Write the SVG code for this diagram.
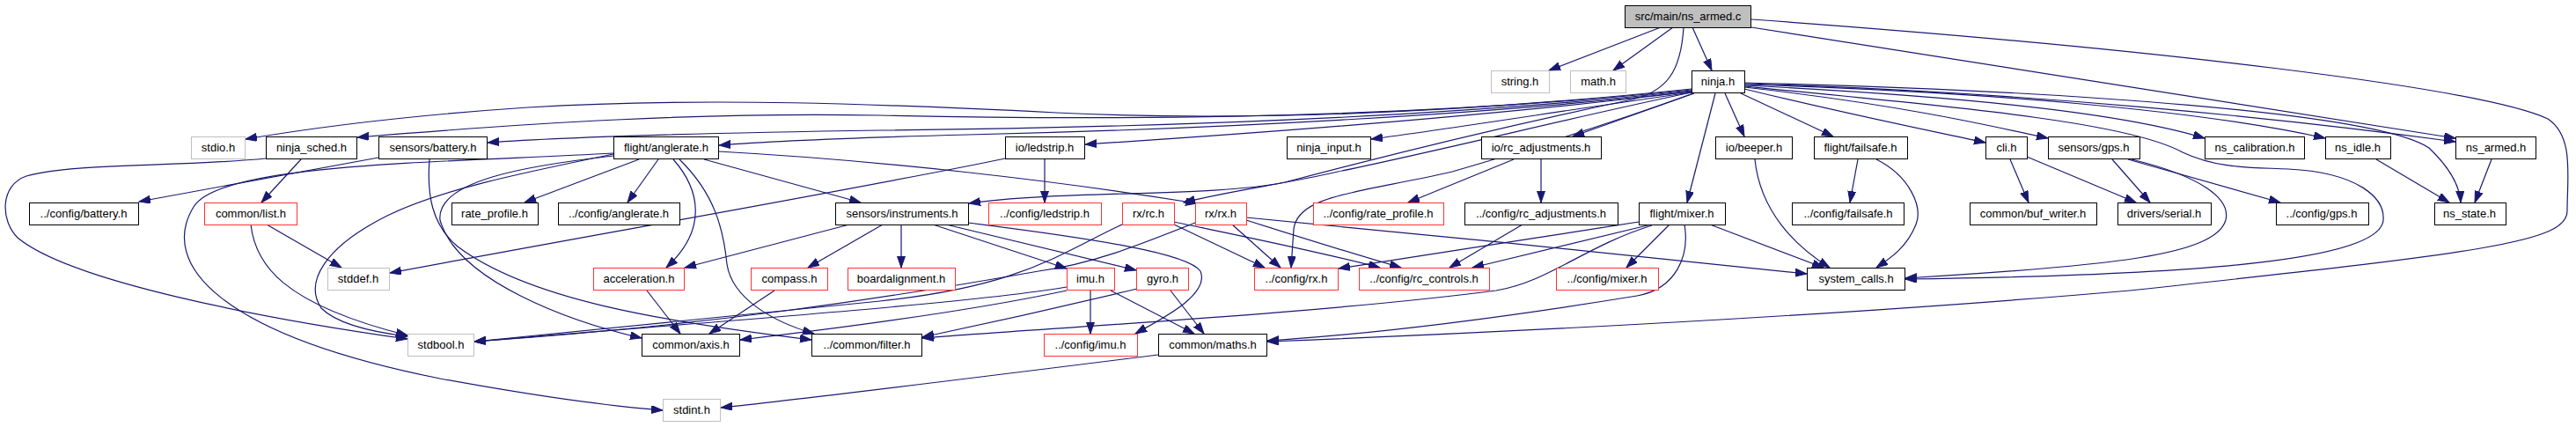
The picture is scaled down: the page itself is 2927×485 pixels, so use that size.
<svg xmlns="http://www.w3.org/2000/svg" width="2927" height="485" viewBox="0 0 2927 485">
<style>
rect{fill:#fff;stroke:#000;stroke-width:1}
.r rect{stroke:#f33}
.g rect{stroke:#bfbfbf}
.root rect{fill:#bfbfbf;stroke:#000}
text{font-family:"Liberation Sans",Arial,sans-serif;font-size:13px;text-anchor:middle;fill:#000}
#edges path{fill:none;stroke:#191970;stroke-width:1.2;marker-end:url(#a)}
</style>
<defs>
<marker id="a" markerUnits="userSpaceOnUse" markerWidth="14" markerHeight="10" refX="13" refY="4.5" orient="auto">
<path d="M0,0 L13,4.5 L0,9 z" fill="#191970" stroke="#191970" stroke-width="1"/>
</marker>
</defs>
<rect x="0" y="0" width="2927" height="485" style="fill:#fff;stroke:none"/>
<g id="edges">
<path d="M1887,31 L1760,80"/>
<path d="M1901,31 L1833,80"/>
<path d="M1923,31 L1945,80"/>
<path d="M1990,31 L2790,157"/>
<path d="M1990,22 C2450,55 2820,100 2895,135 C2925,155 2917,200 2917,240 C2917,275 2820,287 2420,330 C2100,358 1700,378 1440,388"/>
<path d="M1913,31 C1910,80 1895,105 1850,114 C1750,135 1600,170 1460,207 C1380,224 1200,216 1101,231"/>
<path d="M1922,101 C1700,124 1450,140 1200,128 C1000,118 800,110 600,122 C450,132 350,146 279,158"/>
<path d="M1922,102 C1700,125 1400,140 1000,131 C800,127 600,140 406,156"/>
<path d="M1922,103 C1700,127 1400,144 1000,148 C800,151 650,155 554,162"/>
<path d="M1922,104 C1700,129 1400,146 1100,153 C950,157 880,160 817,165"/>
<path d="M1922,104 C1700,131 1450,150 1233,164"/>
<path d="M1922,105 C1800,122 1650,146 1558,158"/>
<path d="M1925,106 L1787,155"/>
<path d="M1922,105 C1800,130 1650,168 1520,195 C1460,209 1400,216 1345,230"/>
<path d="M1924,106 C1830,140 1720,175 1650,195 C1540,220 1475,222 1470,260 L1467,304"/>
<path d="M1949,106 L1917,230"/>
<path d="M1960,106 L1982,155"/>
<path d="M1978,106 L2083,155"/>
<path d="M1982,101 C2100,130 2200,150 2256,162"/>
<path d="M1982,99 C2150,118 2250,140 2327,157"/>
<path d="M1982,97 C2200,108 2400,125 2505,157"/>
<path d="M1982,96 C2250,104 2500,125 2642,157"/>
<path d="M1982,95 C2300,104 2600,135 2790,161"/>
<path d="M1982,94 C2350,103 2700,128 2760,168 C2785,192 2795,212 2796,230"/>
<path d="M1982,98 C2250,124 2420,140 2480,173 C2520,192 2560,190 2600,192 C2680,196 2710,225 2708,250 C2705,290 2550,312 2165,317"/>
<path d="M430,179 L158,229"/>
<path d="M488,181 C485,220 490,255 520,280 C600,340 750,365 922,386"/>
<path d="M726,181 L596,230"/>
<path d="M748,181 L713,230"/>
<path d="M800,181 L978,230"/>
<path d="M816,172 C1000,182 1200,205 1360,231"/>
<path d="M765,181 C795,215 805,260 757,304"/>
<path d="M772,181 C812,220 822,260 826,300 C832,340 880,366 925,379"/>
<path d="M697,177 C600,188 495,205 500,250 C520,320 650,366 729,384"/>
<path d="M697,175 C600,195 500,215 440,245 C370,280 345,320 365,350 C385,370 430,378 463,382"/>
<path d="M697,174 C500,185 250,185 220,235 C180,300 250,380 500,430 C620,452 700,462 753,466"/>
<path d="M342,181 L297,230"/>
<path d="M302,180 C200,190 80,185 30,200 C0,210 0,250 20,270 C80,320 300,362 463,385"/>
<path d="M303,255 L388,304"/>
<path d="M285,255 C290,300 320,345 463,381"/>
<path d="M1187,181 L1187,230"/>
<path d="M1142,180 C1000,210 700,262 443,310"/>
<path d="M965,255 L778,304"/>
<path d="M1003,255 L918,304"/>
<path d="M1024,255 L1024,304"/>
<path d="M1060,255 L1212,305"/>
<path d="M1075,255 L1291,307"/>
<path d="M1100,253 C1250,272 1350,288 1364,308 C1375,335 1320,362 1290,379"/>
<path d="M735,330 L773,379"/>
<path d="M880,330 L806,379"/>
<path d="M1239,330 L1239,379"/>
<path d="M1262,330 L1357,379"/>
<path d="M1212,326 C1100,345 800,366 539,388"/>
<path d="M1212,330 C1100,354 960,372 841,386"/>
<path d="M1330,330 L1368,379"/>
<path d="M1292,328 C1200,350 1100,372 1048,383"/>
<path d="M1275,255 C1200,290 1160,325 1000,342 C800,362 650,377 539,388"/>
<path d="M1334,255 L1437,304"/>
<path d="M1334,252 C1400,266 1500,286 1568,304"/>
<path d="M1358,253 C1290,280 1240,300 1180,308 C1000,340 800,370 539,388"/>
<path d="M1400,255 L1455,304"/>
<path d="M1416,250 C1460,264 1530,286 1592,304"/>
<path d="M1416,247 C1600,264 1900,295 2053,311"/>
<path d="M1862,252 C1750,270 1600,292 1521,305"/>
<path d="M1876,255 L1673,304"/>
<path d="M1897,255 L1848,304"/>
<path d="M1943,255 L2072,304"/>
<path d="M1877,256 C1800,280 1760,320 1700,330 C1500,356 1200,372 1048,384"/>
<path d="M1914,255 C1920,290 1905,328 1860,336 C1700,362 1550,380 1440,387"/>
<path d="M1730,255 L1647,304"/>
<path d="M1720,181 L1600,230"/>
<path d="M1751,181 L1751,230"/>
<path d="M1994,181 C2000,240 2040,280 2079,304"/>
<path d="M2111,181 L2102,230"/>
<path d="M2132,181 C2170,200 2185,235 2177,255 C2167,280 2150,292 2132,304"/>
<path d="M2284,181 L2305,230"/>
<path d="M2303,178 L2427,230"/>
<path d="M2400,181 L2443,230"/>
<path d="M2418,181 L2591,230"/>
<path d="M2422,181 C2500,200 2535,225 2529,250 C2517,290 2400,302 2165,316"/>
<path d="M2700,181 L2783,230"/>
<path d="M2831,181 L2812,230"/>
<path d="M1316,403 C1100,430 900,455 819,463"/>
</g>
<g id="n_root" class="root"><rect x="1846.5" y="6.5" width="143" height="25"/><text x="1918" y="23">src/main/ns_armed.c</text></g>
<g id="n_string" class="g"><rect x="1694.5" y="80.5" width="66" height="25"/><text x="1727" y="97">string.h</text></g>
<g id="n_math" class="g"><rect x="1784.5" y="80.5" width="63" height="25"/><text x="1816" y="97">math.h</text></g>
<g id="n_ninja"><rect x="1922.5" y="80.5" width="60" height="25"/><text x="1952" y="97">ninja.h</text></g>
<g id="n_stdio" class="g"><rect x="217.5" y="155.5" width="61" height="25"/><text x="248" y="172">stdio.h</text></g>
<g id="n_ninja_sched"><rect x="302.5" y="155.5" width="103" height="25"/><text x="354" y="172">ninja_sched.h</text></g>
<g id="n_sensors_battery"><rect x="430.5" y="155.5" width="123" height="25"/><text x="492" y="172">sensors/battery.h</text></g>
<g id="n_flight_anglerate"><rect x="697.5" y="155.5" width="119" height="25"/><text x="757" y="172">flight/anglerate.h</text></g>
<g id="n_io_ledstrip"><rect x="1142.5" y="155.5" width="90" height="25"/><text x="1187" y="172">io/ledstrip.h</text></g>
<g id="n_ninja_input"><rect x="1462.5" y="155.5" width="95" height="25"/><text x="1510" y="172">ninja_input.h</text></g>
<g id="n_io_rc_adjustments"><rect x="1683.5" y="155.5" width="136" height="25"/><text x="1751" y="172">io/rc_adjustments.h</text></g>
<g id="n_io_beeper"><rect x="1949.5" y="155.5" width="87" height="25"/><text x="1993" y="172">io/beeper.h</text></g>
<g id="n_flight_failsafe"><rect x="2061.5" y="155.5" width="106" height="25"/><text x="2114" y="172">flight/failsafe.h</text></g>
<g id="n_cli"><rect x="2256.5" y="155.5" width="47" height="25"/><text x="2280" y="172">cli.h</text></g>
<g id="n_sensors_gps"><rect x="2327.5" y="155.5" width="104" height="25"/><text x="2379" y="172">sensors/gps.h</text></g>
<g id="n_ns_calibration"><rect x="2505.5" y="155.5" width="113" height="25"/><text x="2562" y="172">ns_calibration.h</text></g>
<g id="n_ns_idle"><rect x="2642.5" y="155.5" width="74" height="25"/><text x="2679" y="172">ns_idle.h</text></g>
<g id="n_ns_armed_h"><rect x="2790.5" y="155.5" width="91" height="25"/><text x="2836" y="172">ns_armed.h</text></g>
<g id="n_cfg_battery"><rect x="33.5" y="230.5" width="124" height="25"/><text x="95" y="247">../config/battery.h</text></g>
<g id="n_common_list" class="r"><rect x="232.5" y="230.5" width="105" height="25"/><text x="285" y="247">common/list.h</text></g>
<g id="n_rate_profile"><rect x="513.5" y="230.5" width="98" height="25"/><text x="562" y="247">rate_profile.h</text></g>
<g id="n_cfg_anglerate"><rect x="634.5" y="230.5" width="138" height="25"/><text x="703" y="247">../config/anglerate.h</text></g>
<g id="n_sensors_instruments"><rect x="949.5" y="230.5" width="151" height="25"/><text x="1025" y="247">sensors/instruments.h</text></g>
<g id="n_cfg_ledstrip" class="r"><rect x="1123.5" y="230.5" width="128" height="25"/><text x="1187" y="247">../config/ledstrip.h</text></g>
<g id="n_rx_rc" class="r"><rect x="1275.5" y="230.5" width="59" height="25"/><text x="1305" y="247">rx/rc.h</text></g>
<g id="n_rx_rx" class="r"><rect x="1358.5" y="230.5" width="58" height="25"/><text x="1387" y="247">rx/rx.h</text></g>
<g id="n_cfg_rate_profile" class="r"><rect x="1492.5" y="230.5" width="148" height="25"/><text x="1566" y="247">../config/rate_profile.h</text></g>
<g id="n_cfg_rc_adjustments"><rect x="1664.5" y="230.5" width="174" height="25"/><text x="1751" y="247">../config/rc_adjustments.h</text></g>
<g id="n_flight_mixer"><rect x="1862.5" y="230.5" width="98" height="25"/><text x="1911" y="247">flight/mixer.h</text></g>
<g id="n_cfg_failsafe"><rect x="2036.5" y="230.5" width="127" height="25"/><text x="2100" y="247">../config/failsafe.h</text></g>
<g id="n_common_buf_writer"><rect x="2238.5" y="230.5" width="144" height="25"/><text x="2310" y="247">common/buf_writer.h</text></g>
<g id="n_drivers_serial"><rect x="2406.5" y="230.5" width="106" height="25"/><text x="2459" y="247">drivers/serial.h</text></g>
<g id="n_cfg_gps"><rect x="2586.5" y="230.5" width="105" height="25"/><text x="2638" y="247">../config/gps.h</text></g>
<g id="n_ns_state"><rect x="2766.5" y="230.5" width="81" height="25"/><text x="2806" y="247">ns_state.h</text></g>
<g id="n_stddef" class="g"><rect x="372.5" y="304.5" width="70" height="25"/><text x="407" y="321">stddef.h</text></g>
<g id="n_acceleration" class="r"><rect x="674.5" y="304.5" width="103" height="25"/><text x="726" y="321">acceleration.h</text></g>
<g id="n_compass" class="r"><rect x="853.5" y="304.5" width="87" height="25"/><text x="897" y="321">compass.h</text></g>
<g id="n_boardalignment" class="r"><rect x="963.5" y="304.5" width="122" height="25"/><text x="1024" y="321">boardalignment.h</text></g>
<g id="n_imu" class="r"><rect x="1212.5" y="304.5" width="54" height="25"/><text x="1239" y="321">imu.h</text></g>
<g id="n_gyro" class="r"><rect x="1291.5" y="304.5" width="59" height="25"/><text x="1321" y="321">gyro.h</text></g>
<g id="n_cfg_rx" class="r"><rect x="1425.5" y="304.5" width="95" height="25"/><text x="1473" y="321">../config/rx.h</text></g>
<g id="n_cfg_rc_controls" class="r"><rect x="1544.5" y="304.5" width="148" height="25"/><text x="1618" y="321">../config/rc_controls.h</text></g>
<g id="n_cfg_mixer" class="r"><rect x="1768.5" y="304.5" width="116" height="25"/><text x="1826" y="321">../config/mixer.h</text></g>
<g id="n_system_calls"><rect x="2053.5" y="304.5" width="111" height="25"/><text x="2109" y="321">system_calls.h</text></g>
<g id="n_stdbool" class="g"><rect x="463.5" y="379.5" width="75" height="25"/><text x="501" y="396">stdbool.h</text></g>
<g id="n_common_axis"><rect x="729.5" y="379.5" width="111" height="25"/><text x="785" y="396">common/axis.h</text></g>
<g id="n_common_filter"><rect x="922.5" y="379.5" width="125" height="25"/><text x="985" y="396">../common/filter.h</text></g>
<g id="n_cfg_imu" class="r"><rect x="1186.5" y="379.5" width="106" height="25"/><text x="1239" y="396">../config/imu.h</text></g>
<g id="n_common_maths"><rect x="1316.5" y="379.5" width="123" height="25"/><text x="1378" y="396">common/maths.h</text></g>
<g id="n_stdint" class="g"><rect x="753.5" y="453.5" width="65" height="25"/><text x="786" y="470">stdint.h</text></g>
</svg>
